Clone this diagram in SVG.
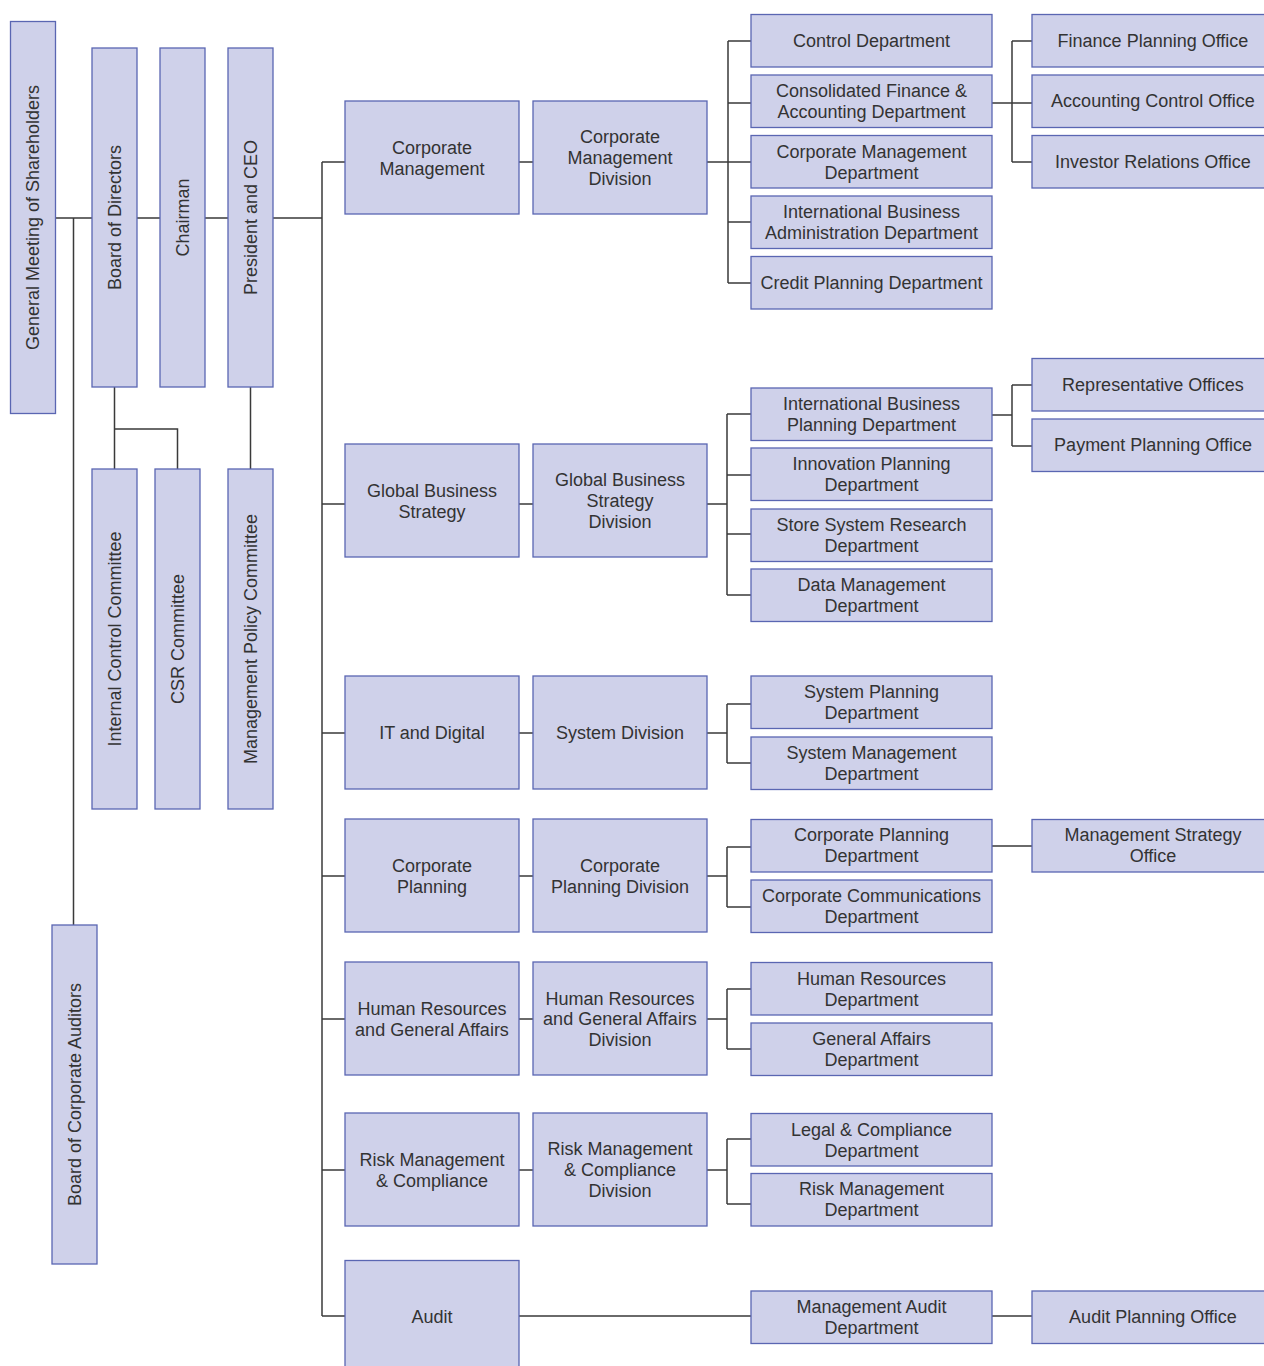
<svg xmlns="http://www.w3.org/2000/svg" width="1264" height="1366" viewBox="0 0 1264 1366">
<style>
.box{fill:#cfd1ea;stroke:#5a66b2;stroke-width:1.3}
.t{font-family:"Liberation Sans",Arial,sans-serif;font-size:18px;fill:#333;text-anchor:middle}
.c{stroke:#3a3a3a;stroke-width:1.5;fill:none}
</style>
<rect width="1264" height="1366" fill="#fff"/>
<g id="connectors" class="c">
<path d="M55.5,218H92M137,218H160M205,218H228M273,218H322"/>
<path d="M73.5,218V925"/>
<path d="M114.5,387V469M114.5,429H177.5V469"/>
<path d="M250.5,387V469"/>
<path d="M322,162V1316"/>
<path d="M322,162H345M519,162H533M707,162H728M728,41V283M728,41H751M728,103H751M728,162H751M728,222H751M728,283H751"/>
<path d="M992,103H1012M1012,41V162M1012,41H1032M1012,103H1032M1012,162H1032"/>
<path d="M322,504H345M519,504H533M707,504H727M727,414V595M727,414H751M727,475H751M727,534H751M727,595H751"/>
<path d="M992,415H1012M1012,385V446M1012,385H1032M1012,446H1032"/>
<path d="M322,733H345M519,733H533M707,733H727M727,704V763M727,704H751M727,763H751"/>
<path d="M322,876H345M519,876H533M707,876H727M727,847V907M727,847H751M727,907H751M992,846H1032"/>
<path d="M322,1019H345M519,1019H533M707,1019H727M727,989V1049M727,989H751M727,1049H751"/>
<path d="M322,1170H345M519,1170H533M707,1170H727M727,1139V1204M727,1139H751M727,1204H751"/>
<path d="M322,1316H345M519,1316H751M992,1316H1032"/>
</g>
<g id="gm"><rect class="box" x="10.5" y="21.5" width="45" height="392"/><text class="t" transform="translate(33,217.5) rotate(-90)" dy="0.35em">General Meeting of Shareholders</text></g>
<g id="bod"><rect class="box" x="92" y="48" width="45" height="339"/><text class="t" transform="translate(114.5,217.5) rotate(-90)" dy="0.35em">Board of Directors</text></g>
<g id="chair"><rect class="box" x="160" y="48" width="45" height="339"/><text class="t" transform="translate(182.5,217.5) rotate(-90)" dy="0.35em">Chairman</text></g>
<g id="ceo"><rect class="box" x="228" y="48" width="45" height="339"/><text class="t" transform="translate(250.5,217.5) rotate(-90)" dy="0.35em">President and CEO</text></g>
<g id="icc"><rect class="box" x="92" y="469" width="45" height="340"/><text class="t" transform="translate(114.5,639) rotate(-90)" dy="0.35em">Internal Control Committee</text></g>
<g id="csr"><rect class="box" x="155" y="469" width="45" height="340"/><text class="t" transform="translate(177.5,639) rotate(-90)" dy="0.35em">CSR Committee</text></g>
<g id="mpc"><rect class="box" x="228" y="469" width="45" height="340"/><text class="t" transform="translate(250.5,639) rotate(-90)" dy="0.35em">Management Policy Committee</text></g>
<g id="bca"><rect class="box" x="52" y="925" width="45" height="339"/><text class="t" transform="translate(74.5,1094.5) rotate(-90)" dy="0.35em">Board of Corporate Auditors</text></g>

<g id="l1-cm"><rect class="box" x="345" y="101" width="174" height="113"/><text class="t" x="432" y="148" dy="0.35em">Corporate</text><text class="t" x="432" y="169" dy="0.35em">Management</text></g>
<g id="l2-cm"><rect class="box" x="533" y="101" width="174" height="113"/><text class="t" x="620" y="137" dy="0.35em">Corporate</text><text class="t" x="620" y="158" dy="0.35em">Management</text><text class="t" x="620" y="179" dy="0.35em">Division</text></g>
<g id="d-control"><rect class="box" x="751" y="14.5" width="241" height="52.5"/><text class="t" x="871.5" y="41" dy="0.35em">Control Department</text></g>
<g id="d-consol"><rect class="box" x="751" y="75" width="241" height="52.5"/><text class="t" x="871.5" y="91" dy="0.35em">Consolidated Finance &amp;</text><text class="t" x="871.5" y="112" dy="0.35em">Accounting Department</text></g>
<g id="d-cmd"><rect class="box" x="751" y="135.5" width="241" height="52.5"/><text class="t" x="871.5" y="152" dy="0.35em">Corporate Management</text><text class="t" x="871.5" y="173" dy="0.35em">Department</text></g>
<g id="d-iba"><rect class="box" x="751" y="196" width="241" height="52.5"/><text class="t" x="871.5" y="212" dy="0.35em">International Business</text><text class="t" x="871.5" y="233" dy="0.35em">Administration Department</text></g>
<g id="d-credit"><rect class="box" x="751" y="256.5" width="241" height="52.5"/><text class="t" x="871.5" y="283" dy="0.35em">Credit Planning Department</text></g>
<g id="o-fp"><rect class="box" x="1032" y="14.5" width="236" height="52.5"/><text class="t" x="1153" y="41" dy="0.35em">Finance Planning Office</text></g>
<g id="o-ac"><rect class="box" x="1032" y="75" width="236" height="52.5"/><text class="t" x="1153" y="101" dy="0.35em">Accounting Control Office</text></g>
<g id="o-ir"><rect class="box" x="1032" y="135.5" width="236" height="52.5"/><text class="t" x="1153" y="162" dy="0.35em">Investor Relations Office</text></g>

<g id="l1-gbs"><rect class="box" x="345" y="444" width="174" height="113"/><text class="t" x="432" y="491" dy="0.35em">Global Business</text><text class="t" x="432" y="512" dy="0.35em">Strategy</text></g>
<g id="l2-gbs"><rect class="box" x="533" y="444" width="174" height="113"/><text class="t" x="620" y="480" dy="0.35em">Global Business</text><text class="t" x="620" y="501" dy="0.35em">Strategy</text><text class="t" x="620" y="522" dy="0.35em">Division</text></g>
<g id="d-ibp"><rect class="box" x="751" y="388" width="241" height="52.5"/><text class="t" x="871.5" y="404" dy="0.35em">International Business</text><text class="t" x="871.5" y="425" dy="0.35em">Planning Department</text></g>
<g id="d-innov"><rect class="box" x="751" y="448" width="241" height="52.5"/><text class="t" x="871.5" y="464" dy="0.35em">Innovation Planning</text><text class="t" x="871.5" y="485" dy="0.35em">Department</text></g>
<g id="d-store"><rect class="box" x="751" y="509" width="241" height="52.5"/><text class="t" x="871.5" y="525" dy="0.35em">Store System Research</text><text class="t" x="871.5" y="546" dy="0.35em">Department</text></g>
<g id="d-data"><rect class="box" x="751" y="569" width="241" height="52.5"/><text class="t" x="871.5" y="585" dy="0.35em">Data Management</text><text class="t" x="871.5" y="606" dy="0.35em">Department</text></g>
<g id="o-rep"><rect class="box" x="1032" y="358.5" width="236" height="52.5"/><text class="t" x="1153" y="385" dy="0.35em">Representative Offices</text></g>
<g id="o-pay"><rect class="box" x="1032" y="419" width="236" height="52.5"/><text class="t" x="1153" y="445" dy="0.35em">Payment Planning Office</text></g>

<g id="l1-it"><rect class="box" x="345" y="676" width="174" height="113"/><text class="t" x="432" y="733" dy="0.35em">IT and Digital</text></g>
<g id="l2-it"><rect class="box" x="533" y="676" width="174" height="113"/><text class="t" x="620" y="733" dy="0.35em">System Division</text></g>
<g id="d-sp"><rect class="box" x="751" y="676" width="241" height="52.5"/><text class="t" x="871.5" y="692" dy="0.35em">System Planning</text><text class="t" x="871.5" y="713" dy="0.35em">Department</text></g>
<g id="d-sm"><rect class="box" x="751" y="737" width="241" height="52.5"/><text class="t" x="871.5" y="753" dy="0.35em">System Management</text><text class="t" x="871.5" y="774" dy="0.35em">Department</text></g>

<g id="l1-cp"><rect class="box" x="345" y="819" width="174" height="113"/><text class="t" x="432" y="866" dy="0.35em">Corporate</text><text class="t" x="432" y="887" dy="0.35em">Planning</text></g>
<g id="l2-cp"><rect class="box" x="533" y="819" width="174" height="113"/><text class="t" x="620" y="866" dy="0.35em">Corporate</text><text class="t" x="620" y="887" dy="0.35em">Planning Division</text></g>
<g id="d-cpd"><rect class="box" x="751" y="819.5" width="241" height="52.5"/><text class="t" x="871.5" y="835" dy="0.35em">Corporate Planning</text><text class="t" x="871.5" y="856" dy="0.35em">Department</text></g>
<g id="d-ccd"><rect class="box" x="751" y="880" width="241" height="52.5"/><text class="t" x="871.5" y="896" dy="0.35em">Corporate Communications</text><text class="t" x="871.5" y="917" dy="0.35em">Department</text></g>
<g id="o-ms"><rect class="box" x="1032" y="819.5" width="236" height="52.5"/><text class="t" x="1153" y="835" dy="0.35em">Management Strategy</text><text class="t" x="1153" y="856" dy="0.35em">Office</text></g>

<g id="l1-hr"><rect class="box" x="345" y="962" width="174" height="113"/><text class="t" x="432" y="1009" dy="0.35em">Human Resources</text><text class="t" x="432" y="1030" dy="0.35em">and General Affairs</text></g>
<g id="l2-hr"><rect class="box" x="533" y="962" width="174" height="113"/><text class="t" x="620" y="999" dy="0.35em">Human Resources</text><text class="t" x="620" y="1019" dy="0.35em">and General Affairs</text><text class="t" x="620" y="1040" dy="0.35em">Division</text></g>
<g id="d-hr"><rect class="box" x="751" y="962.5" width="241" height="52.5"/><text class="t" x="871.5" y="979" dy="0.35em">Human Resources</text><text class="t" x="871.5" y="1000" dy="0.35em">Department</text></g>
<g id="d-ga"><rect class="box" x="751" y="1023" width="241" height="52.5"/><text class="t" x="871.5" y="1039" dy="0.35em">General Affairs</text><text class="t" x="871.5" y="1060" dy="0.35em">Department</text></g>

<g id="l1-rm"><rect class="box" x="345" y="1113" width="174" height="113"/><text class="t" x="432" y="1160" dy="0.35em">Risk Management</text><text class="t" x="432" y="1181" dy="0.35em">&amp; Compliance</text></g>
<g id="l2-rm"><rect class="box" x="533" y="1113" width="174" height="113"/><text class="t" x="620" y="1149" dy="0.35em">Risk Management</text><text class="t" x="620" y="1170" dy="0.35em">&amp; Compliance</text><text class="t" x="620" y="1191" dy="0.35em">Division</text></g>
<g id="d-legal"><rect class="box" x="751" y="1113.5" width="241" height="52.5"/><text class="t" x="871.5" y="1130" dy="0.35em">Legal &amp; Compliance</text><text class="t" x="871.5" y="1151" dy="0.35em">Department</text></g>
<g id="d-risk"><rect class="box" x="751" y="1173.5" width="241" height="52.5"/><text class="t" x="871.5" y="1189" dy="0.35em">Risk Management</text><text class="t" x="871.5" y="1210" dy="0.35em">Department</text></g>

<g id="l1-audit"><rect class="box" x="345" y="1260.5" width="174" height="120"/><text class="t" x="432" y="1317" dy="0.35em">Audit</text></g>
<g id="d-ma"><rect class="box" x="751" y="1291" width="241" height="52.5"/><text class="t" x="871.5" y="1307" dy="0.35em">Management Audit</text><text class="t" x="871.5" y="1328" dy="0.35em">Department</text></g>
<g id="o-ap"><rect class="box" x="1032" y="1291" width="236" height="52.5"/><text class="t" x="1153" y="1317" dy="0.35em">Audit Planning Office</text></g>
</svg>
